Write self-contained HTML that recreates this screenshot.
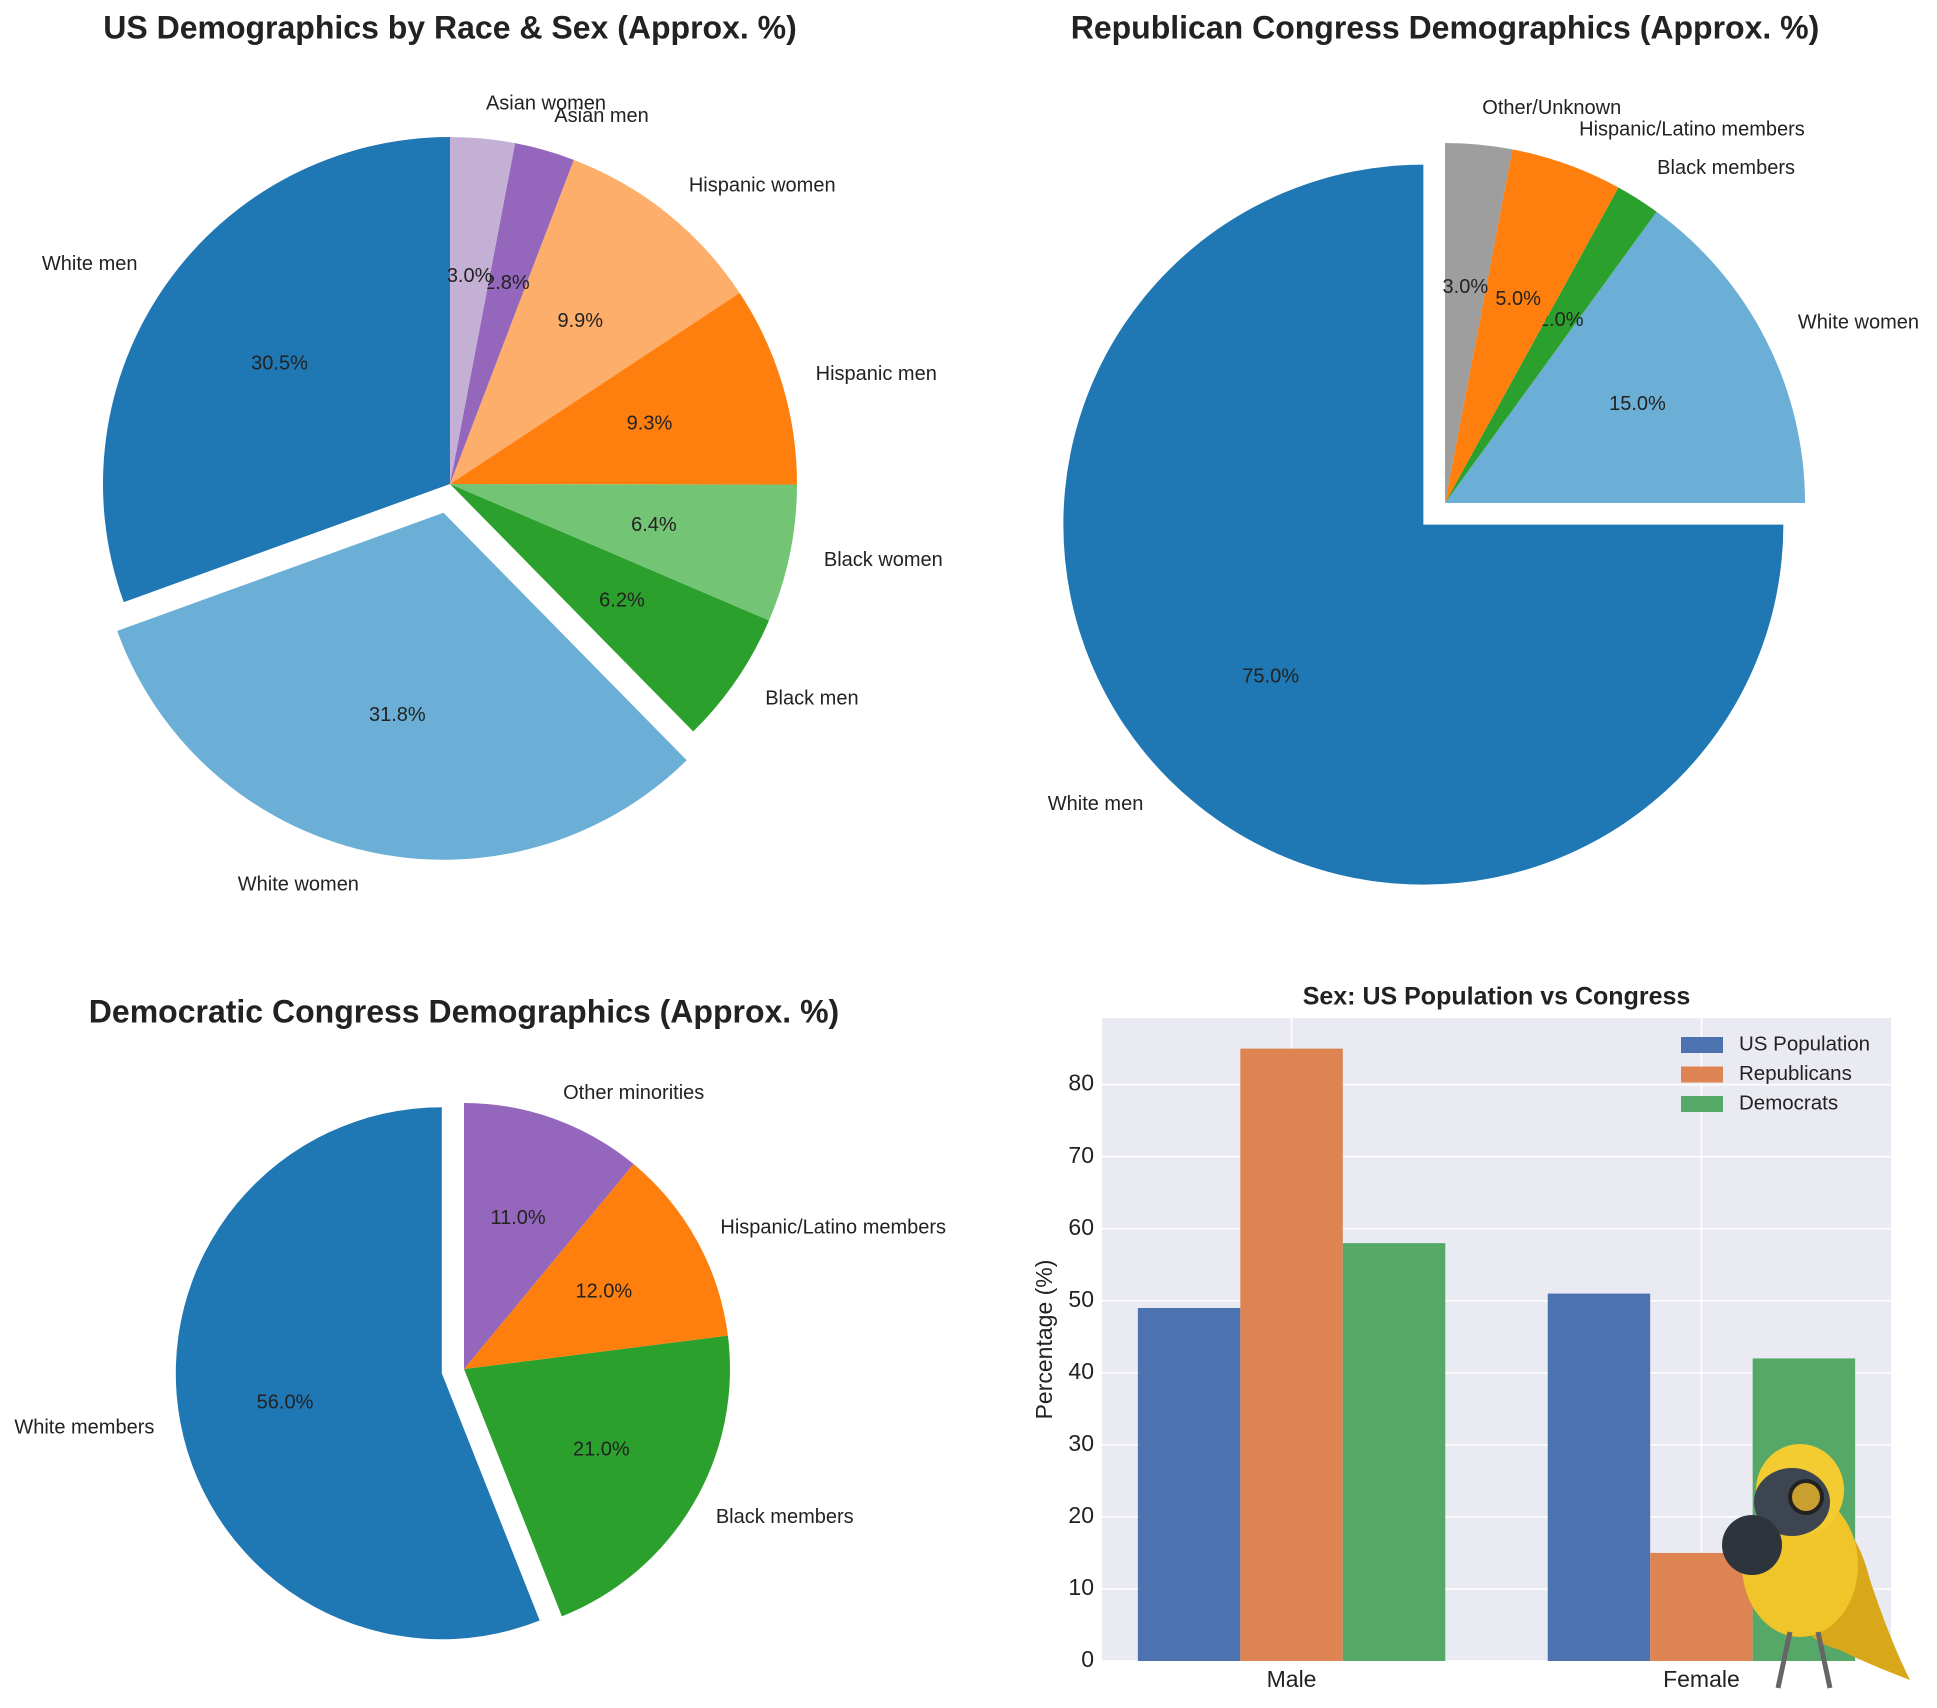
<!DOCTYPE html>
<html><head><meta charset="utf-8">
<style>
html,body{margin:0;padding:0;background:#fff;}
svg{display:block;font-family:"Liberation Sans",sans-serif;}
</style></head>
<body>
<svg id="root" width="1937" height="1708" viewBox="0 0 1937 1708" xmlns="http://www.w3.org/2000/svg">
<rect width="1937" height="1708" fill="#fff"/>
<g id="pies"></g>
<g id="bars"></g>
</svg>
<script>
// ---- Pie 1: US demographics
const usLabels = ["White men","White women","Black men","Black women","Hispanic men","Hispanic women","Asian men","Asian women"];
const usValues = [30.5,31.8,6.2,6.4,9.3,9.9,2.8,3.0];
const usExplode = [0,0.085,0,0,0,0,0,0];
// ---- Pie 2: Republican congress
const repLabels = ["White men","White women","Black members","Hispanic/Latino members","Other/Unknown"];
const repValues = [75,15,2,5,3];
const repExplode = [0.085,0,0,0,0];
// ---- Pie 3: Democratic congress
const demLabels = ["White members","Black members","Hispanic/Latino members","Other minorities"];
const demValues = [56,21,12,11];
const demExplode = [0.085,0,0,0];
// ---- Bar chart
const barCategories = ["Male","Female"];
const seriesNames = ["US Population","Republicans","Democrats"];
const usPopValues = [49,51];
const repSexValues = [85,15];
const demSexValues = [58,42];
const yTicks = [0,10,20,30,40,50,60,70,80];

const NS="http://www.w3.org/2000/svg";
function mk(tag,attrs,parent){const e=document.createElementNS(NS,tag);for(const k in attrs)e.setAttribute(k,attrs[k]);parent.appendChild(e);return e;}
const pies=document.getElementById('pies');

function drawPie(cfg){
  const g=mk('g',{},pies);
  
  
  const t=mk('text',{x:cfg.cx,y:cfg.ty,'text-anchor':'middle','font-size':32,'font-weight':'bold',fill:'#222','dominant-baseline':'middle'},g);
  t.textContent=cfg.title;
  
  
  const total=cfg.values.reduce((a,b)=>a+b,0);
  let a0=90;
  cfg.values.forEach((v,i)=>{
    const sweep=v/total*360;
    const a1=a0+sweep, mid=(a0+a1)/2*Math.PI/180;
    const off=cfg.explode[i]*cfg.r;
    const cx=cfg.cx+off*Math.cos(mid), cy=cfg.cy-off*Math.sin(mid);
    const r=cfg.r;
    const p0=[cx+r*Math.cos(a0*Math.PI/180), cy-r*Math.sin(a0*Math.PI/180)];
    const p1=[cx+r*Math.cos(a1*Math.PI/180), cy-r*Math.sin(a1*Math.PI/180)];
    const large=sweep>180?1:0;
    const path=mk('path',{d:`M${cx},${cy} L${p0[0]},${p0[1]} A${r},${r} 0 ${large} 0 ${p1[0]},${p1[1]} Z`,fill:cfg.colors[i]},g);
    
    
    const lx=cx+1.1*r*Math.cos(mid), ly=cy-1.1*r*Math.sin(mid);
    const lab=mk('text',{x:lx,y:ly,'text-anchor':Math.cos(mid)>=0?'start':'end','dominant-baseline':'middle','font-size':20,fill:'#222'},g);
    lab.textContent=cfg.labels[i];
    
    
    const px=cx+0.6*r*Math.cos(mid), py=cy-0.6*r*Math.sin(mid);
    const pt=mk('text',{x:px,y:py,'text-anchor':'middle','dominant-baseline':'middle','font-size':20,fill:'#222'},g);
    pt.textContent=(v/total*100).toFixed(1)+'%';
    
    
    a0=a1;
  });
}
drawPie({name:'us-demographics-pie',title:'US Demographics by Race & Sex (Approx. %)',cx:450,cy:484,r:347,ty:30,
  labels:usLabels,values:usValues,explode:usExplode,
  colors:['#1f77b4','#6baed6','#2ca02c','#74c476','#ff7f0e','#fdae6b','#9467bd','#c5b0d5']});
drawPie({name:'republican-pie',title:'Republican Congress Demographics (Approx. %)',cx:1445,cy:503,r:360,ty:30,
  labels:repLabels,values:repValues,explode:repExplode,
  colors:['#1f77b4','#6baed6','#2ca02c','#ff7f0e','#9e9e9e']});
drawPie({name:'democratic-pie',title:'Democratic Congress Demographics (Approx. %)',cx:464,cy:1369,r:266,ty:1014,
  labels:demLabels,values:demValues,explode:demExplode,
  colors:['#1f77b4','#2ca02c','#ff7f0e','#9467bd']});

// ---- bar chart
const bars=document.getElementById('bars');
const L=1102,R=1891,T=1018,B=1661,YMAX=89.25,XMIN=-0.4625,XMAX=1.4625;
const xs=u=>L+(u-XMIN)/(XMAX-XMIN)*(R-L);
const ys=v=>B-v/YMAX*(B-T);
const bg=mk('rect',{x:L,y:T,width:R-L,height:B-T,fill:'#eaeaf2'},bars);


yTicks.forEach(v=>{
  const ln=mk('line',{x1:L,x2:R,y1:ys(v),y2:ys(v),stroke:'#fff','stroke-width':1.5},bars);
  
  
  const tx=mk('text',{x:L-8,y:ys(v),'text-anchor':'end','dominant-baseline':'middle','font-size':23,fill:'#222'},bars);
  tx.textContent=v;
  
  
});
barCategories.forEach((c,i)=>{
  const ln=mk('line',{x1:xs(i),x2:xs(i),y1:T,y2:B,stroke:'#fff','stroke-width':1.5},bars);
  
  
});
const allSeries=[usPopValues,repSexValues,demSexValues];
const barColors=['#4c72b0','#dd8452','#55a868'];
const w=0.25;
allSeries.forEach((s,si)=>{
  s.forEach((v,i)=>{
    const x0=xs(i+(si-1)*w-w/2), x1=xs(i+(si-1)*w+w/2);
    const r=mk('rect',{x:x0,y:ys(v),width:x1-x0,height:ys(0)-ys(v),fill:barColors[si]},bars);
    
    
  });
});
barCategories.forEach((c,i)=>{
  const tx=mk('text',{x:xs(i),y:1681,'text-anchor':'middle','dominant-baseline':'middle','font-size':23,fill:'#222'},bars);
  tx.textContent=c;
  
  
});
const tt=mk('text',{x:(L+R)/2,y:998,'text-anchor':'middle','dominant-baseline':'middle','font-size':25,'font-weight':'bold',fill:'#222'},bars);
tt.textContent='Sex: US Population vs Congress';


const yl=mk('text',{x:0,y:0,transform:`translate(1046,${(T+B)/2}) rotate(-90)`,'text-anchor':'middle','dominant-baseline':'middle','font-size':23,fill:'#222'},bars);
yl.textContent='Percentage (%)';


seriesNames.forEach((n,i)=>{
  const y=1045+i*29.5;
  const p=mk('rect',{x:1681,y:y-8,width:42,height:16,fill:barColors[i]},bars);
  
  
  const tx=mk('text',{x:1739,y:y,'dominant-baseline':'middle','font-size':20.5,fill:'#222'},bars);
  tx.textContent=n;
  
  
});
// bird mascot (rough)
const bird=mk('g',{},bars);


mk('path',{d:'M1800 1520 Q1850 1500 1870 1580 Q1890 1640 1910 1680 Q1870 1665 1840 1650 Q1800 1640 1790 1600 Z',fill:'#d9a81a'},bird);
mk('ellipse',{cx:1800,cy:1565,rx:58,ry:72,fill:'#f0c52a'},bird);
mk('ellipse',{cx:1800,cy:1490,rx:44,ry:46,fill:'#f2cc30'},bird);
mk('ellipse',{cx:1792,cy:1502,rx:38,ry:34,fill:'#3d4650'},bird);
mk('circle',{cx:1752,cy:1545,r:30,fill:'#2e343b'},bird);
mk('circle',{cx:1806,cy:1497,r:16,fill:'#c9a030',stroke:'#222','stroke-width':4},bird);
mk('path',{d:'M1790 1632 L1778 1688 M1818 1632 L1830 1688',stroke:'#666','stroke-width':5,fill:'none'},bird);
</script>
</body></html>
